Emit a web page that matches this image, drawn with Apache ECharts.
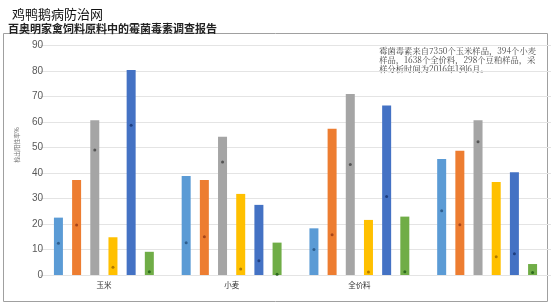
<!DOCTYPE html>
<html>
<head>
<meta charset="utf-8">
<script src="https://cdn.jsdelivr.net/npm/echarts@6/dist/echarts.min.js"></script>
<style>html,body{margin:0;padding:0;background:#fff;}#c{width:551px;height:305px;}</style>
</head>
<body>
<div id="c"></div>
<script>
// ---- data ----
const categories = ['玉米', '小麦', '全价料', ''];
const yTicks = [0, 10, 20, 30, 40, 50, 60, 70, 80, 90];
// positive rate (%) per toxin series across the 4 categories
const s1 = [22.5, 38.8, 18.3, 45.5];
const s2 = [37.3, 37.3, 57.4, 48.7];
const s3 = [60.7, 54.2, 71.0, 60.7];
const s4 = [14.8, 31.8, 21.6, 36.5];
const s5 = [80.4, 27.5, 66.5, 40.3];
const s6 = [9.1, 12.7, 22.9, 4.3];
// small dot markers inside bars
const d1 = [12.5, 12.6, 10.0, 25.2];
const d2 = [19.6, 15.0, 15.8, 19.7];
const d3 = [49.0, 44.3, 43.3, 52.3];
const d4 = [3.0, 2.4, 1.2, 7.2];
const d5 = [58.7, 5.6, 30.8, 8.3];
const d6 = [1.3, 0.3, 1.3, 1.0];
const titleText = '鸡鸭鹅病防治网';
const subTitleText = '百奥明家禽饲料原料中的霉菌毒素调查报告';
const yName = '检出阳性率%';
const noteLines = ['霉菌毒素来自7350个玉米样品，394个小麦', '样品，1638个全价料，298个豆粕样品，采', '样分析时间为2016年1到6月。'];

const barColors = ['#5B9BD5', '#ED7D31', '#A5A5A5', '#FFC000', '#4472C4', '#70AD47'];
const dotColors = ['#2f5f8f', '#a8461a', '#555555', '#b07a00', '#1f3f80', '#2e6b1e'];
const barData = [s1, s2, s3, s4, s5, s6];
const dotData = [d1, d2, d3, d4, d5, d6];

const chart = echarts.init(document.getElementById('c'));
const series = [];
barData.forEach((d, i) => {
  series.push({
    type: 'bar', data: d, barWidth: 9, barGap: '102%',
    itemStyle: { color: barColors[i] },
    silent: true
  });
});
dotData.forEach((d, i) => {
  series.push({
    type: 'pictorialBar', data: d, barWidth: 9, barGap: '102%',
    symbol: 'circle', symbolSize: [3, 3], symbolPosition: 'end', symbolOffset: [0, '-50%'],
    itemStyle: { color: dotColors[i] }, z: 5, silent: true
  });
});

chart.setOption({
  animation: false,
  backgroundColor: '#fff',
  title: [
    { text: titleText, left: 7, top: 3, textStyle: { fontSize: 13, fontWeight: 'normal', color: '#111', fontFamily: 'Noto Sans CJK SC' } },
    { text: subTitleText, left: 3, top: 18, textStyle: { fontSize: 11, fontWeight: 'bold', color: '#222', fontFamily: 'Noto Sans CJK SC' } }
  ],
  grid: { left: 40, width: 512, top: 45.5, height: 229.5 },
  xAxis: {
    type: 'category', data: categories,
    axisLine: { show: false }, axisTick: { show: false },
    axisLabel: { fontSize: 7.5, color: '#333', margin: 6, fontFamily: 'Noto Sans CJK SC' }
  },
  yAxis: {
    type: 'value', min: yTicks[0], max: yTicks[yTicks.length - 1], interval: 10,
    axisLine: { show: false }, axisTick: { show: false },
    axisLabel: { fontSize: 10, color: '#595959', margin: -3, fontFamily: 'Liberation Sans' },
    splitLine: { lineStyle: { color: '#e4e4e4', width: 1 } }
  },
  graphic: [
    { type: 'rect', shape: { x: 3.5, y: 33.5, width: 544, height: 268 }, style: { fill: 'none', stroke: '#a0a0a0', lineWidth: 1 }, z: -1 },
    { type: 'text', x: 17, y: 145, rotation: Math.PI / 2, style: { text: yName, fontSize: 6, fill: '#777', align: 'center', verticalAlign: 'middle', fontFamily: 'Noto Sans CJK SC' } },
    { type: 'text', right: 15, top: 46.5, style: { text: noteLines.join('\n'), fontSize: 8.3, lineHeight: 9, fill: '#444', align: 'right', fontFamily: 'Noto Serif CJK SC, Noto Sans CJK SC' } }
  ],
  series: series
});
</script>
</body>
</html>
